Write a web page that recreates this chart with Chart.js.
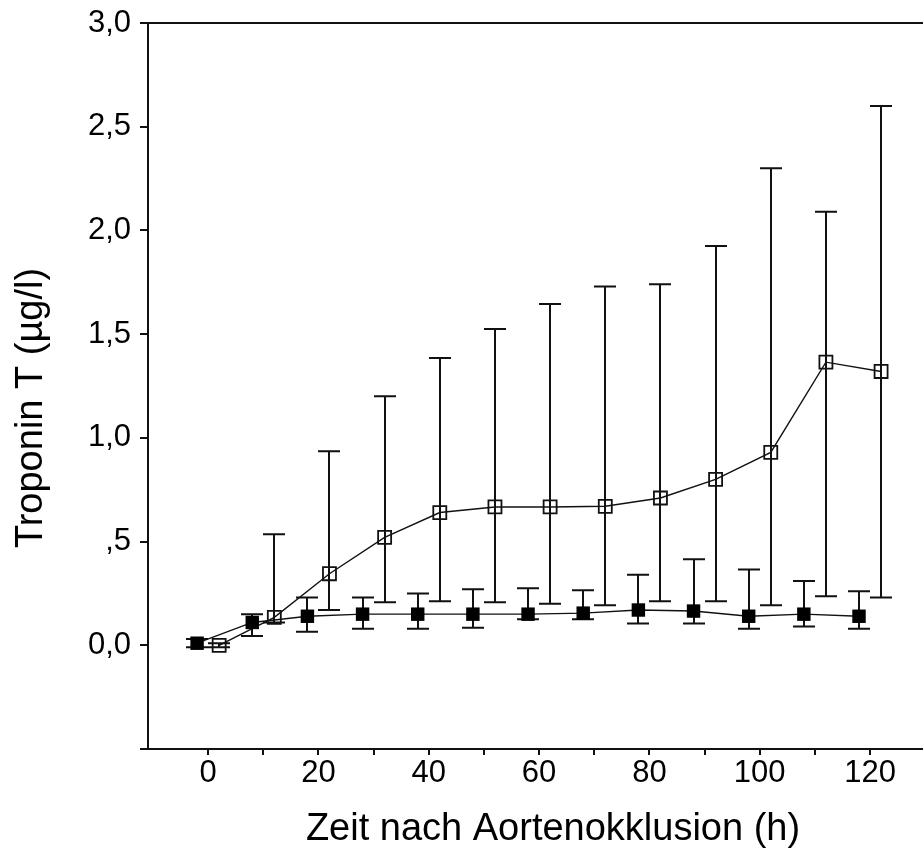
<!DOCTYPE html>
<html>
<head>
<meta charset="utf-8">
<script src="https://cdn.jsdelivr.net/npm/chart.js@4.4.1/dist/chart.umd.min.js"></script>
<style>
  html, body { margin: 0; padding: 0; background: #ffffff; }
  #wrap { width: 923px; height: 850px; }
</style>
</head>
<body>
<div id="wrap"><canvas id="c" width="923" height="850"></canvas></div>
<script>
// Sampling times after aortic occlusion (h)
const hours = [0, 10, 20, 30, 40, 50, 60, 70, 80, 90, 100, 110, 120];

// Group drawn with filled squares
const filledMean  = [0.01, 0.11, 0.14, 0.15, 0.15, 0.15, 0.15, 0.155, 0.17, 0.165, 0.14, 0.15, 0.14];
const filledUpper = [0.03, 0.15, 0.23, 0.23, 0.25, 0.27, 0.275, 0.265, 0.34, 0.415, 0.365, 0.31, 0.26];
const filledLower = [-0.01, 0.045, 0.065, 0.08, 0.08, 0.085, 0.125, 0.125, 0.105, 0.105, 0.08, 0.09, 0.08];

// Group drawn with open squares
const openMean  = [0.00, 0.135, 0.345, 0.52, 0.64, 0.667, 0.667, 0.67, 0.71, 0.80, 0.93, 1.365, 1.32];
const openUpper = [0.01, 0.535, 0.935, 1.20, 1.385, 1.525, 1.645, 1.73, 1.74, 1.925, 2.30, 2.09, 2.60];
const openLower = [-0.01, 0.11, 0.17, 0.207, 0.212, 0.207, 0.20, 0.193, 0.212, 0.212, 0.193, 0.236, 0.23];

// Axis ticks
const xTickValues = [0, 10, 20, 30, 40, 50, 60, 70, 80, 90, 100, 110, 120];
const xTickLabels = ['0', '', '20', '', '40', '', '60', '', '80', '', '100', '', '120'];
const yTickValues = [-0.5, 0, 0.5, 1.0, 1.5, 2.0, 2.5, 3.0];
const yTickLabels = ['', '0,0', ',5', '1,0', '1,5', '2,0', '2,5', '3,0'];

const xTitle = 'Zeit nach Aortenokklusion (h)';
const yTitle = 'Troponin T (µg/l)';

// the two groups are nudged apart horizontally so their bars don't overlap
const GROUP_SHIFT = 2;

const INK = '#111111';
const FONT = '"Liberation Sans", Arial, sans-serif';

function points(means, shift) {
  return hours.map((h, i) => ({ x: h + shift, y: means[i] }));
}

const errorBars = {
  id: 'errorBars',
  beforeDatasetsDraw(chart) {
    const { ctx } = chart;
    const xs = chart.scales.x, ys = chart.scales.y;
    ctx.save();
    ctx.strokeStyle = INK;
    ctx.lineWidth = 2;
    chart.data.datasets.forEach(ds => {
      ds.data.forEach((p, i) => {
        const px = Math.round(xs.getPixelForValue(p.x));
        const yTop = ys.getPixelForValue(ds.errUpper[i]);
        const yBot = ys.getPixelForValue(ds.errLower[i]);
        ctx.beginPath();
        ctx.moveTo(px, yTop); ctx.lineTo(px, yBot);
        ctx.moveTo(px - 11, yTop); ctx.lineTo(px + 11, yTop);
        ctx.moveTo(px - 11, yBot); ctx.lineTo(px + 11, yBot);
        ctx.stroke();
      });
    });
    ctx.restore();
  }
};

const frameAndTitles = {
  id: 'frameAndTitles',
  afterDraw(chart) {
    const { ctx, chartArea } = chart;
    ctx.save();
    ctx.strokeStyle = INK;
    ctx.lineWidth = 2;
    ctx.beginPath();
    ctx.moveTo(chartArea.left, chartArea.top);
    ctx.lineTo(chartArea.right, chartArea.top);
    ctx.stroke();

    ctx.fillStyle = '#000000';
    ctx.font = '38px ' + FONT;
    ctx.textAlign = 'center';
    ctx.textBaseline = 'middle';
    ctx.fillText(xTitle, 553, 830);

    ctx.translate(32, 408);
    ctx.rotate(-Math.PI / 2);
    ctx.fillText(yTitle, 0, 0);
    ctx.restore();
  }
};

function noScalePadding(scale) {
  scale.paddingLeft = 0;
  scale.paddingRight = 0;
  scale.paddingTop = 0;
  scale.paddingBottom = 0;
}

new Chart(document.getElementById('c'), {
  type: 'scatter',
  data: {
    datasets: [
      {
        data: points(filledMean, -GROUP_SHIFT),
        errUpper: filledUpper,
        errLower: filledLower,
        showLine: true,
        borderColor: INK,
        borderWidth: 1.4,
        pointStyle: 'rect',
        pointRadius: 9.5,
        pointBackgroundColor: '#000000',
        pointBorderColor: '#000000',
        pointBorderWidth: 0
      },
      {
        data: points(openMean, GROUP_SHIFT),
        errUpper: openUpper,
        errLower: openLower,
        showLine: true,
        borderColor: INK,
        borderWidth: 1.4,
        pointStyle: 'rect',
        pointRadius: 9.2,
        pointBackgroundColor: 'rgba(255,255,255,0)',
        pointBorderColor: INK,
        pointBorderWidth: 1.8
      }
    ]
  },
  options: {
    responsive: false,
    devicePixelRatio: 1,
    animation: false,
    layout: { autoPadding: false, padding: { top: 23, right: 0, left: 0, bottom: 0 } },
    plugins: { legend: { display: false }, tooltip: { enabled: false } },
    scales: {
      x: {
        type: 'linear',
        min: -10.9,
        max: 129.6,
        afterBuildTicks(scale) { scale.ticks = xTickValues.map(v => ({ value: v })); },
        afterFit(scale) { scale.height = 101; noScalePadding(scale); },
        ticks: {
          callback(v) { const k = xTickValues.indexOf(v); return k >= 0 ? xTickLabels[k] : ''; },
          font: { family: FONT, size: 31 },
          color: '#000000',
          padding: 0,
          maxRotation: 0,
          autoSkip: false
        },
        grid: { drawOnChartArea: false, drawTicks: true, tickLength: 6, color: INK, lineWidth: 2 },
        border: { display: true, color: INK, width: 2 }
      },
      y: {
        type: 'linear',
        min: -0.5,
        max: 3.0,
        afterBuildTicks(scale) { scale.ticks = yTickValues.map(v => ({ value: v })); },
        afterFit(scale) { scale.width = 148; noScalePadding(scale); },
        ticks: {
          callback(v) { const k = yTickValues.indexOf(v); return k >= 0 ? yTickLabels[k] : ''; },
          font: { family: FONT, size: 31 },
          color: '#000000',
          padding: 9,
          autoSkip: false
        },
        grid: { drawOnChartArea: false, drawTicks: true, tickLength: 8, color: INK, lineWidth: 2 },
        border: { display: true, color: INK, width: 2 }
      }
    }
  },
  plugins: [errorBars, frameAndTitles]
});
</script>
</body>
</html>
